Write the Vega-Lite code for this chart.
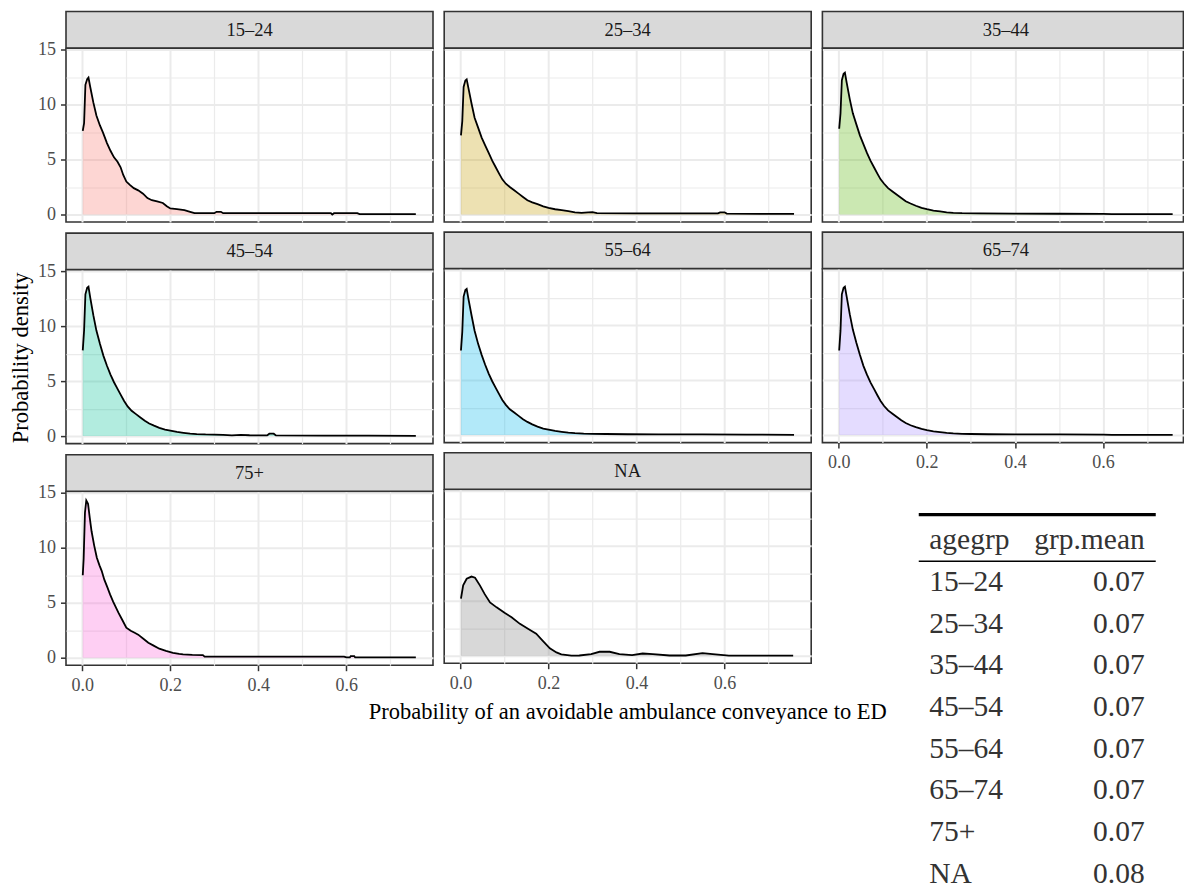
{
  "$schema": "https://vega.github.io/schema/vega-lite/v6.json",
  "background": "white",
  "padding": {"left": 10, "top": 10.5, "right": 0, "bottom": 0},
  "title": {"text": "Probability of an avoidable ambulance conveyance to ED", "orient": "bottom", "anchor": "middle", "frame": "bounds", "offset": 0, "dx": 30.6, "dy": -194, "font": "Liberation Serif", "fontSize": 22.5, "fontWeight": "normal", "color": "#000000"},
  "datasets": {
    "density": [
      {"g":"15–24","x":0.001,"d":7.6},{"g":"15–24","x":0.004,"d":8.3},{"g":"15–24","x":0.007,"d":11.8},{"g":"15–24","x":0.011,"d":12.3},{"g":"15–24","x":0.014,"d":12.45},{"g":"15–24","x":0.018,"d":11.6},{"g":"15–24","x":0.025,"d":10.2},{"g":"15–24","x":0.032,"d":9.0},{"g":"15–24","x":0.04,"d":8.1},{"g":"15–24","x":0.047,"d":7.45},{"g":"15–24","x":0.056,"d":6.5},{"g":"15–24","x":0.064,"d":5.8},{"g":"15–24","x":0.072,"d":5.2},{"g":"15–24","x":0.08,"d":4.8},{"g":"15–24","x":0.087,"d":4.3},{"g":"15–24","x":0.093,"d":3.6},{"g":"15–24","x":0.1,"d":3.0},{"g":"15–24","x":0.108,"d":2.7},{"g":"15–24","x":0.117,"d":2.4},{"g":"15–24","x":0.127,"d":2.2},{"g":"15–24","x":0.138,"d":1.9},{"g":"15–24","x":0.148,"d":1.5},{"g":"15–24","x":0.158,"d":1.3},{"g":"15–24","x":0.17,"d":1.2},{"g":"15–24","x":0.183,"d":1.05},{"g":"15–24","x":0.192,"d":0.75},{"g":"15–24","x":0.2,"d":0.55},{"g":"15–24","x":0.215,"d":0.5},{"g":"15–24","x":0.232,"d":0.4},{"g":"15–24","x":0.245,"d":0.25},{"g":"15–24","x":0.255,"d":0.12},{"g":"15–24","x":0.3,"d":0.12},{"g":"15–24","x":0.305,"d":0.25},{"g":"15–24","x":0.315,"d":0.25},{"g":"15–24","x":0.32,"d":0.12},{"g":"15–24","x":0.45,"d":0.12},{"g":"15–24","x":0.565,"d":0.12},{"g":"15–24","x":0.568,"d":0.0},{"g":"15–24","x":0.572,"d":0.12},{"g":"15–24","x":0.625,"d":0.12},{"g":"15–24","x":0.63,"d":0.03},{"g":"15–24","x":0.758,"d":0.03},

      {"g":"25–34","x":0.001,"d":7.2},{"g":"25–34","x":0.004,"d":8.5},{"g":"25–34","x":0.007,"d":11.6},{"g":"25–34","x":0.011,"d":12.2},{"g":"25–34","x":0.014,"d":12.3},{"g":"25–34","x":0.018,"d":11.5},{"g":"25–34","x":0.025,"d":10.1},{"g":"25–34","x":0.032,"d":8.8},{"g":"25–34","x":0.04,"d":7.9},{"g":"25–34","x":0.048,"d":7.0},{"g":"25–34","x":0.056,"d":6.3},{"g":"25–34","x":0.064,"d":5.6},{"g":"25–34","x":0.072,"d":4.9},{"g":"25–34","x":0.08,"d":4.3},{"g":"25–34","x":0.088,"d":3.7},{"g":"25–34","x":0.095,"d":3.2},{"g":"25–34","x":0.103,"d":2.8},{"g":"25–34","x":0.112,"d":2.5},{"g":"25–34","x":0.122,"d":2.2},{"g":"25–34","x":0.132,"d":1.9},{"g":"25–34","x":0.142,"d":1.6},{"g":"25–34","x":0.152,"d":1.3},{"g":"25–34","x":0.163,"d":1.1},{"g":"25–34","x":0.175,"d":0.95},{"g":"25–34","x":0.188,"d":0.75},{"g":"25–34","x":0.2,"d":0.6},{"g":"25–34","x":0.215,"d":0.48},{"g":"25–34","x":0.23,"d":0.4},{"g":"25–34","x":0.245,"d":0.3},{"g":"25–34","x":0.26,"d":0.2},{"g":"25–34","x":0.275,"d":0.15},{"g":"25–34","x":0.29,"d":0.2},{"g":"25–34","x":0.3,"d":0.22},{"g":"25–34","x":0.31,"d":0.12},{"g":"25–34","x":0.4,"d":0.1},{"g":"25–34","x":0.5,"d":0.1},{"g":"25–34","x":0.585,"d":0.1},{"g":"25–34","x":0.59,"d":0.2},{"g":"25–34","x":0.6,"d":0.2},{"g":"25–34","x":0.605,"d":0.08},{"g":"25–34","x":0.68,"d":0.05},{"g":"25–34","x":0.758,"d":0.05},

      {"g":"35–44","x":0.001,"d":7.8},{"g":"35–44","x":0.004,"d":9.2},{"g":"35–44","x":0.007,"d":12.2},{"g":"35–44","x":0.011,"d":12.8},{"g":"35–44","x":0.014,"d":12.9},{"g":"35–44","x":0.018,"d":12.0},{"g":"35–44","x":0.025,"d":10.5},{"g":"35–44","x":0.032,"d":9.2},{"g":"35–44","x":0.04,"d":8.2},{"g":"35–44","x":0.048,"d":7.2},{"g":"35–44","x":0.056,"d":6.4},{"g":"35–44","x":0.064,"d":5.6},{"g":"35–44","x":0.072,"d":4.9},{"g":"35–44","x":0.08,"d":4.3},{"g":"35–44","x":0.088,"d":3.7},{"g":"35–44","x":0.095,"d":3.2},{"g":"35–44","x":0.103,"d":2.8},{"g":"35–44","x":0.112,"d":2.4},{"g":"35–44","x":0.122,"d":2.1},{"g":"35–44","x":0.132,"d":1.8},{"g":"35–44","x":0.142,"d":1.5},{"g":"35–44","x":0.152,"d":1.2},{"g":"35–44","x":0.163,"d":1.0},{"g":"35–44","x":0.175,"d":0.8},{"g":"35–44","x":0.188,"d":0.6},{"g":"35–44","x":0.2,"d":0.48},{"g":"35–44","x":0.215,"d":0.35},{"g":"35–44","x":0.23,"d":0.28},{"g":"35–44","x":0.245,"d":0.2},{"g":"35–44","x":0.26,"d":0.15},{"g":"35–44","x":0.28,"d":0.12},{"g":"35–44","x":0.32,"d":0.1},{"g":"35–44","x":0.4,"d":0.08},{"g":"35–44","x":0.5,"d":0.07},{"g":"35–44","x":0.6,"d":0.06},{"g":"35–44","x":0.62,"d":0.03},{"g":"35–44","x":0.758,"d":0.03},

      {"g":"45–54","x":0.001,"d":7.8},{"g":"45–54","x":0.004,"d":9.6},{"g":"45–54","x":0.007,"d":12.9},{"g":"45–54","x":0.011,"d":13.5},{"g":"45–54","x":0.014,"d":13.6},{"g":"45–54","x":0.018,"d":12.6},{"g":"45–54","x":0.025,"d":11.0},{"g":"45–54","x":0.032,"d":9.6},{"g":"45–54","x":0.04,"d":8.4},{"g":"45–54","x":0.048,"d":7.3},{"g":"45–54","x":0.056,"d":6.4},{"g":"45–54","x":0.064,"d":5.6},{"g":"45–54","x":0.072,"d":4.9},{"g":"45–54","x":0.08,"d":4.3},{"g":"45–54","x":0.088,"d":3.7},{"g":"45–54","x":0.095,"d":3.2},{"g":"45–54","x":0.103,"d":2.7},{"g":"45–54","x":0.112,"d":2.3},{"g":"45–54","x":0.122,"d":2.0},{"g":"45–54","x":0.132,"d":1.7},{"g":"45–54","x":0.142,"d":1.4},{"g":"45–54","x":0.152,"d":1.15},{"g":"45–54","x":0.163,"d":0.95},{"g":"45–54","x":0.175,"d":0.75},{"g":"45–54","x":0.188,"d":0.6},{"g":"45–54","x":0.2,"d":0.5},{"g":"45–54","x":0.215,"d":0.38},{"g":"45–54","x":0.23,"d":0.3},{"g":"45–54","x":0.245,"d":0.22},{"g":"45–54","x":0.26,"d":0.18},{"g":"45–54","x":0.28,"d":0.15},{"g":"45–54","x":0.3,"d":0.14},{"g":"45–54","x":0.32,"d":0.12},{"g":"45–54","x":0.34,"d":0.06},{"g":"45–54","x":0.36,"d":0.12},{"g":"45–54","x":0.38,"d":0.08},{"g":"45–54","x":0.42,"d":0.06},{"g":"45–54","x":0.425,"d":0.22},{"g":"45–54","x":0.435,"d":0.22},{"g":"45–54","x":0.44,"d":0.06},{"g":"45–54","x":0.55,"d":0.05},{"g":"45–54","x":0.65,"d":0.04},{"g":"45–54","x":0.758,"d":0.03},

      {"g":"55–64","x":0.001,"d":7.7},{"g":"55–64","x":0.004,"d":9.4},{"g":"55–64","x":0.007,"d":12.6},{"g":"55–64","x":0.011,"d":13.2},{"g":"55–64","x":0.014,"d":13.3},{"g":"55–64","x":0.018,"d":12.4},{"g":"55–64","x":0.025,"d":10.9},{"g":"55–64","x":0.032,"d":9.5},{"g":"55–64","x":0.04,"d":8.3},{"g":"55–64","x":0.048,"d":7.3},{"g":"55–64","x":0.056,"d":6.4},{"g":"55–64","x":0.064,"d":5.6},{"g":"55–64","x":0.072,"d":4.9},{"g":"55–64","x":0.08,"d":4.3},{"g":"55–64","x":0.088,"d":3.7},{"g":"55–64","x":0.095,"d":3.2},{"g":"55–64","x":0.103,"d":2.75},{"g":"55–64","x":0.112,"d":2.35},{"g":"55–64","x":0.122,"d":2.05},{"g":"55–64","x":0.132,"d":1.75},{"g":"55–64","x":0.142,"d":1.45},{"g":"55–64","x":0.152,"d":1.2},{"g":"55–64","x":0.163,"d":0.98},{"g":"55–64","x":0.175,"d":0.78},{"g":"55–64","x":0.188,"d":0.6},{"g":"55–64","x":0.2,"d":0.5},{"g":"55–64","x":0.215,"d":0.38},{"g":"55–64","x":0.23,"d":0.3},{"g":"55–64","x":0.245,"d":0.23},{"g":"55–64","x":0.26,"d":0.18},{"g":"55–64","x":0.28,"d":0.14},{"g":"55–64","x":0.3,"d":0.12},{"g":"55–64","x":0.33,"d":0.1},{"g":"55–64","x":0.38,"d":0.08},{"g":"55–64","x":0.45,"d":0.07},{"g":"55–64","x":0.55,"d":0.06},{"g":"55–64","x":0.65,"d":0.04},{"g":"55–64","x":0.758,"d":0.03},

      {"g":"65–74","x":0.001,"d":7.7},{"g":"65–74","x":0.004,"d":9.5},{"g":"65–74","x":0.007,"d":12.8},{"g":"65–74","x":0.011,"d":13.4},{"g":"65–74","x":0.014,"d":13.5},{"g":"65–74","x":0.018,"d":12.6},{"g":"65–74","x":0.025,"d":11.0},{"g":"65–74","x":0.032,"d":9.6},{"g":"65–74","x":0.04,"d":8.4},{"g":"65–74","x":0.048,"d":7.3},{"g":"65–74","x":0.056,"d":6.3},{"g":"65–74","x":0.064,"d":5.5},{"g":"65–74","x":0.072,"d":4.8},{"g":"65–74","x":0.08,"d":4.2},{"g":"65–74","x":0.088,"d":3.6},{"g":"65–74","x":0.095,"d":3.1},{"g":"65–74","x":0.103,"d":2.65},{"g":"65–74","x":0.112,"d":2.25},{"g":"65–74","x":0.122,"d":1.95},{"g":"65–74","x":0.132,"d":1.65},{"g":"65–74","x":0.142,"d":1.35},{"g":"65–74","x":0.152,"d":1.1},{"g":"65–74","x":0.163,"d":0.9},{"g":"65–74","x":0.175,"d":0.72},{"g":"65–74","x":0.188,"d":0.56},{"g":"65–74","x":0.2,"d":0.45},{"g":"65–74","x":0.215,"d":0.35},{"g":"65–74","x":0.23,"d":0.27},{"g":"65–74","x":0.245,"d":0.2},{"g":"65–74","x":0.26,"d":0.15},{"g":"65–74","x":0.28,"d":0.12},{"g":"65–74","x":0.3,"d":0.1},{"g":"65–74","x":0.34,"d":0.08},{"g":"65–74","x":0.4,"d":0.07},{"g":"65–74","x":0.5,"d":0.06},{"g":"65–74","x":0.6,"d":0.05},{"g":"65–74","x":0.62,"d":0.03},{"g":"65–74","x":0.758,"d":0.03},

      {"g":"75+","x":0.001,"d":7.5},{"g":"75+","x":0.003,"d":9.0},{"g":"75+","x":0.006,"d":13.2},{"g":"75+","x":0.009,"d":14.3},{"g":"75+","x":0.013,"d":14.0},{"g":"75+","x":0.017,"d":12.7},{"g":"75+","x":0.021,"d":11.5},{"g":"75+","x":0.027,"d":10.2},{"g":"75+","x":0.033,"d":9.1},{"g":"75+","x":0.039,"d":8.4},{"g":"75+","x":0.044,"d":7.9},{"g":"75+","x":0.05,"d":7.1},{"g":"75+","x":0.057,"d":6.4},{"g":"75+","x":0.063,"d":5.76},{"g":"75+","x":0.07,"d":5.1},{"g":"75+","x":0.076,"d":4.6},{"g":"75+","x":0.082,"d":4.1},{"g":"75+","x":0.09,"d":3.5},{"g":"75+","x":0.1,"d":2.73},{"g":"75+","x":0.11,"d":2.45},{"g":"75+","x":0.12,"d":2.25},{"g":"75+","x":0.127,"d":2.1},{"g":"75+","x":0.138,"d":1.75},{"g":"75+","x":0.15,"d":1.36},{"g":"75+","x":0.162,"d":1.1},{"g":"75+","x":0.175,"d":0.82},{"g":"75+","x":0.19,"d":0.62},{"g":"75+","x":0.206,"d":0.45},{"g":"75+","x":0.22,"d":0.35},{"g":"75+","x":0.229,"d":0.3},{"g":"75+","x":0.25,"d":0.26},{"g":"75+","x":0.274,"d":0.24},{"g":"75+","x":0.278,"d":0.1},{"g":"75+","x":0.45,"d":0.1},{"g":"75+","x":0.595,"d":0.1},{"g":"75+","x":0.6,"d":0.03},{"g":"75+","x":0.608,"d":0.03},{"g":"75+","x":0.61,"d":0.15},{"g":"75+","x":0.618,"d":0.15},{"g":"75+","x":0.62,"d":0.03},{"g":"75+","x":0.758,"d":0.03},

      {"g":"NA","x":0.001,"d":5.2},{"g":"NA","x":0.006,"d":6.4},{"g":"NA","x":0.014,"d":7.0},{"g":"NA","x":0.025,"d":7.2},{"g":"NA","x":0.033,"d":7.1},{"g":"NA","x":0.044,"d":6.4},{"g":"NA","x":0.055,"d":5.6},{"g":"NA","x":0.067,"d":4.85},{"g":"NA","x":0.082,"d":4.4},{"g":"NA","x":0.1,"d":3.9},{"g":"NA","x":0.116,"d":3.5},{"g":"NA","x":0.135,"d":2.9},{"g":"NA","x":0.157,"d":2.36},{"g":"NA","x":0.172,"d":2.0},{"g":"NA","x":0.187,"d":1.36},{"g":"NA","x":0.203,"d":0.67},{"g":"NA","x":0.218,"d":0.3},{"g":"NA","x":0.229,"d":0.12},{"g":"NA","x":0.252,"d":0.01},{"g":"NA","x":0.27,"d":0.02},{"g":"NA","x":0.297,"d":0.15},{"g":"NA","x":0.316,"d":0.36},{"g":"NA","x":0.339,"d":0.36},{"g":"NA","x":0.361,"d":0.15},{"g":"NA","x":0.39,"d":0.06},{"g":"NA","x":0.414,"d":0.2},{"g":"NA","x":0.437,"d":0.15},{"g":"NA","x":0.475,"d":0.02},{"g":"NA","x":0.512,"d":0.02},{"g":"NA","x":0.55,"d":0.24},{"g":"NA","x":0.573,"d":0.15},{"g":"NA","x":0.61,"d":0.01},{"g":"NA","x":0.709,"d":0.01},{"g":"NA","x":0.756,"d":0.01}
    ],
    "means": [
      {"agegrp":"15–24","grp_mean":0.07},
      {"agegrp":"25–34","grp_mean":0.07},
      {"agegrp":"35–44","grp_mean":0.07},
      {"agegrp":"45–54","grp_mean":0.07},
      {"agegrp":"55–64","grp_mean":0.07},
      {"agegrp":"65–74","grp_mean":0.07},
      {"agegrp":"75+","grp_mean":0.07},
      {"agegrp":"NA","grp_mean":0.08}
    ]
  },
  "spacing": 9.2,
  "hconcat": [
    {
      "title": {"text": "Probability density", "orient": "left", "anchor": "middle", "offset": 4, "dx": -5, "font": "Liberation Serif", "fontSize": 22.5, "fontWeight": "normal", "color": "#000000"},
      "spacing": 7.6,
      "vconcat": [
        {"spacing": 0, "bounds": "flush", "vconcat": [
          {"width": 367, "height": 36.5, "data": {"values": [{"g": "15–24"}]}, "mark": {"type": "text", "font": "Liberation Serif", "fontSize": 18.5, "color": "#1A1A1A", "baseline": "middle"}, "encoding": {"text": {"field": "g"}}, "view": {"fill": "#D9D9D9", "stroke": "#333333", "strokeWidth": 1.6}},
          {"width": 367, "height": 173.5, "data": {"name": "density"}, "transform": [{"filter": "datum.g === '15–24'"}],
           "encoding": {
             "x": {"field": "x", "type": "quantitative", "scale": {"domain": [-0.0371, 0.797], "nice": false, "zero": false}, "axis": {"values": [0,0.1,0.2,0.3,0.4,0.5,0.6,0.7], "labels": false, "ticks": false, "title": null, "gridWidth": {"condition": {"test": "round(datum.value*10) % 2 === 0", "value": 2}, "value": 1.2}}},
             "y": {"field": "d", "type": "quantitative", "scale": {"domain": [-0.68, 15.1], "nice": false, "zero": false}, "axis": {"values": [0,2.5,5,7.5,10,12.5,15], "title": null, "labelExpr": "datum.value % 5 === 0 ? format(datum.value, 'd') : ''", "labelPadding": 5, "labelOverlap": false, "labelFlush": false, "tickOpacity": {"condition": {"test": "datum.value % 5 === 0", "value": 1}, "value": 0}, "gridWidth": {"condition": {"test": "datum.value % 5 === 0", "value": 2}, "value": 1.2}}}
           },
           "layer": [
             {"mark": {"type": "area", "opacity": 0.3}, "encoding": {"color": {"field": "g", "type": "nominal", "legend": null, "scale": {"domain": ["15–24","25–34","35–44","45–54","55–64","65–74","75+","NA"], "range": ["#F8766D","#C49A00","#53B400","#00C094","#00B6EB","#A58AFF","#FB61D7","#7F7F7F"]}}}},
             {"mark": {"type": "line", "color": "#000000", "strokeWidth": 1.8}}
           ]}
        ]},
        {"spacing": 0, "bounds": "flush", "vconcat": [
          {"width": 367, "height": 36.5, "data": {"values": [{"g": "45–54"}]}, "mark": {"type": "text", "font": "Liberation Serif", "fontSize": 18.5, "color": "#1A1A1A", "baseline": "middle"}, "encoding": {"text": {"field": "g"}}, "view": {"fill": "#D9D9D9", "stroke": "#333333", "strokeWidth": 1.6}},
          {"width": 367, "height": 173.5, "data": {"name": "density"}, "transform": [{"filter": "datum.g === '45–54'"}],
           "encoding": {
             "x": {"field": "x", "type": "quantitative", "scale": {"domain": [-0.0371, 0.797], "nice": false, "zero": false}, "axis": {"values": [0,0.1,0.2,0.3,0.4,0.5,0.6,0.7], "labels": false, "ticks": false, "title": null, "gridWidth": {"condition": {"test": "round(datum.value*10) % 2 === 0", "value": 2}, "value": 1.2}}},
             "y": {"field": "d", "type": "quantitative", "scale": {"domain": [-0.68, 15.1], "nice": false, "zero": false}, "axis": {"values": [0,2.5,5,7.5,10,12.5,15], "title": null, "labelExpr": "datum.value % 5 === 0 ? format(datum.value, 'd') : ''", "labelPadding": 5, "labelOverlap": false, "labelFlush": false, "tickOpacity": {"condition": {"test": "datum.value % 5 === 0", "value": 1}, "value": 0}, "gridWidth": {"condition": {"test": "datum.value % 5 === 0", "value": 2}, "value": 1.2}}}
           },
           "layer": [
             {"mark": {"type": "area", "opacity": 0.3}, "encoding": {"color": {"field": "g", "type": "nominal", "legend": null, "scale": {"domain": ["15–24","25–34","35–44","45–54","55–64","65–74","75+","NA"], "range": ["#F8766D","#C49A00","#53B400","#00C094","#00B6EB","#A58AFF","#FB61D7","#7F7F7F"]}}}},
             {"mark": {"type": "line", "color": "#000000", "strokeWidth": 1.8}}
           ]}
        ]},
        {"spacing": 0, "bounds": "flush", "vconcat": [
          {"width": 367, "height": 36.5, "data": {"values": [{"g": "75+"}]}, "mark": {"type": "text", "font": "Liberation Serif", "fontSize": 18.5, "color": "#1A1A1A", "baseline": "middle"}, "encoding": {"text": {"field": "g"}}, "view": {"fill": "#D9D9D9", "stroke": "#333333", "strokeWidth": 1.6}},
          {"width": 367, "height": 173.5, "data": {"name": "density"}, "transform": [{"filter": "datum.g === '75+'"}],
           "encoding": {
             "x": {"field": "x", "type": "quantitative", "scale": {"domain": [-0.0371, 0.797], "nice": false, "zero": false}, "axis": {"values": [0,0.1,0.2,0.3,0.4,0.5,0.6,0.7], "title": null, "labelExpr": "round(datum.value*10) % 2 === 0 ? format(datum.value, '.1f') : ''", "labelFlush": false, "labelOverlap": false, "labelPadding": 5.5, "tickOpacity": {"condition": {"test": "round(datum.value*10) % 2 === 0", "value": 1}, "value": 0}, "gridWidth": {"condition": {"test": "round(datum.value*10) % 2 === 0", "value": 2}, "value": 1.2}}},
             "y": {"field": "d", "type": "quantitative", "scale": {"domain": [-0.68, 15.1], "nice": false, "zero": false}, "axis": {"values": [0,2.5,5,7.5,10,12.5,15], "title": null, "labelExpr": "datum.value % 5 === 0 ? format(datum.value, 'd') : ''", "labelPadding": 5, "labelOverlap": false, "labelFlush": false, "tickOpacity": {"condition": {"test": "datum.value % 5 === 0", "value": 1}, "value": 0}, "gridWidth": {"condition": {"test": "datum.value % 5 === 0", "value": 2}, "value": 1.2}}}
           },
           "layer": [
             {"mark": {"type": "area", "opacity": 0.3}, "encoding": {"color": {"field": "g", "type": "nominal", "legend": null, "scale": {"domain": ["15–24","25–34","35–44","45–54","55–64","65–74","75+","NA"], "range": ["#F8766D","#C49A00","#53B400","#00C094","#00B6EB","#A58AFF","#FB61D7","#7F7F7F"]}}}},
             {"mark": {"type": "line", "color": "#000000", "strokeWidth": 1.8}}
           ]}
        ]}
      ]
    },
    {
      "spacing": 7.6,
      "vconcat": [
        {"spacing": 0, "bounds": "flush", "vconcat": [
          {"width": 367, "height": 36.5, "data": {"values": [{"g": "25–34"}]}, "mark": {"type": "text", "font": "Liberation Serif", "fontSize": 18.5, "color": "#1A1A1A", "baseline": "middle"}, "encoding": {"text": {"field": "g"}}, "view": {"fill": "#D9D9D9", "stroke": "#333333", "strokeWidth": 1.6}},
          {"width": 367, "height": 173.5, "data": {"name": "density"}, "transform": [{"filter": "datum.g === '25–34'"}],
           "encoding": {
             "x": {"field": "x", "type": "quantitative", "scale": {"domain": [-0.0371, 0.797], "nice": false, "zero": false}, "axis": {"values": [0,0.1,0.2,0.3,0.4,0.5,0.6,0.7], "labels": false, "ticks": false, "title": null, "gridWidth": {"condition": {"test": "round(datum.value*10) % 2 === 0", "value": 2}, "value": 1.2}}},
             "y": {"field": "d", "type": "quantitative", "scale": {"domain": [-0.68, 15.1], "nice": false, "zero": false}, "axis": {"values": [0,2.5,5,7.5,10,12.5,15], "labels": false, "ticks": false, "title": null, "gridWidth": {"condition": {"test": "datum.value % 5 === 0", "value": 2}, "value": 1.2}}}
           },
           "layer": [
             {"mark": {"type": "area", "opacity": 0.3}, "encoding": {"color": {"field": "g", "type": "nominal", "legend": null, "scale": {"domain": ["15–24","25–34","35–44","45–54","55–64","65–74","75+","NA"], "range": ["#F8766D","#C49A00","#53B400","#00C094","#00B6EB","#A58AFF","#FB61D7","#7F7F7F"]}}}},
             {"mark": {"type": "line", "color": "#000000", "strokeWidth": 1.8}}
           ]}
        ]},
        {"spacing": 0, "bounds": "flush", "vconcat": [
          {"width": 367, "height": 36.5, "data": {"values": [{"g": "55–64"}]}, "mark": {"type": "text", "font": "Liberation Serif", "fontSize": 18.5, "color": "#1A1A1A", "baseline": "middle"}, "encoding": {"text": {"field": "g"}}, "view": {"fill": "#D9D9D9", "stroke": "#333333", "strokeWidth": 1.6}},
          {"width": 367, "height": 173.5, "data": {"name": "density"}, "transform": [{"filter": "datum.g === '55–64'"}],
           "encoding": {
             "x": {"field": "x", "type": "quantitative", "scale": {"domain": [-0.0371, 0.797], "nice": false, "zero": false}, "axis": {"values": [0,0.1,0.2,0.3,0.4,0.5,0.6,0.7], "labels": false, "ticks": false, "title": null, "gridWidth": {"condition": {"test": "round(datum.value*10) % 2 === 0", "value": 2}, "value": 1.2}}},
             "y": {"field": "d", "type": "quantitative", "scale": {"domain": [-0.68, 15.1], "nice": false, "zero": false}, "axis": {"values": [0,2.5,5,7.5,10,12.5,15], "labels": false, "ticks": false, "title": null, "gridWidth": {"condition": {"test": "datum.value % 5 === 0", "value": 2}, "value": 1.2}}}
           },
           "layer": [
             {"mark": {"type": "area", "opacity": 0.3}, "encoding": {"color": {"field": "g", "type": "nominal", "legend": null, "scale": {"domain": ["15–24","25–34","35–44","45–54","55–64","65–74","75+","NA"], "range": ["#F8766D","#C49A00","#53B400","#00C094","#00B6EB","#A58AFF","#FB61D7","#7F7F7F"]}}}},
             {"mark": {"type": "line", "color": "#000000", "strokeWidth": 1.8}}
           ]}
        ]},
        {"spacing": 0, "bounds": "flush", "vconcat": [
          {"width": 367, "height": 36.5, "data": {"values": [{"g": "NA"}]}, "mark": {"type": "text", "font": "Liberation Serif", "fontSize": 18.5, "color": "#1A1A1A", "baseline": "middle"}, "encoding": {"text": {"field": "g"}}, "view": {"fill": "#D9D9D9", "stroke": "#333333", "strokeWidth": 1.6}},
          {"width": 367, "height": 173.5, "data": {"name": "density"}, "transform": [{"filter": "datum.g === 'NA'"}],
           "encoding": {
             "x": {"field": "x", "type": "quantitative", "scale": {"domain": [-0.0371, 0.797], "nice": false, "zero": false}, "axis": {"values": [0,0.1,0.2,0.3,0.4,0.5,0.6,0.7], "title": null, "labelExpr": "round(datum.value*10) % 2 === 0 ? format(datum.value, '.1f') : ''", "labelFlush": false, "labelOverlap": false, "labelPadding": 5.5, "tickOpacity": {"condition": {"test": "round(datum.value*10) % 2 === 0", "value": 1}, "value": 0}, "gridWidth": {"condition": {"test": "round(datum.value*10) % 2 === 0", "value": 2}, "value": 1.2}}},
             "y": {"field": "d", "type": "quantitative", "scale": {"domain": [-0.68, 15.1], "nice": false, "zero": false}, "axis": {"values": [0,2.5,5,7.5,10,12.5,15], "labels": false, "ticks": false, "title": null, "gridWidth": {"condition": {"test": "datum.value % 5 === 0", "value": 2}, "value": 1.2}}}
           },
           "layer": [
             {"mark": {"type": "area", "opacity": 0.3}, "encoding": {"color": {"field": "g", "type": "nominal", "legend": null, "scale": {"domain": ["15–24","25–34","35–44","45–54","55–64","65–74","75+","NA"], "range": ["#F8766D","#C49A00","#53B400","#00C094","#00B6EB","#A58AFF","#FB61D7","#7F7F7F"]}}}},
             {"mark": {"type": "line", "color": "#000000", "strokeWidth": 1.8}}
           ]}
        ]}
      ]
    },
    {
      "spacing": 7.6,
      "vconcat": [
        {"spacing": 0, "bounds": "flush", "vconcat": [
          {"width": 361, "height": 36.5, "data": {"values": [{"g": "35–44"}]}, "mark": {"type": "text", "font": "Liberation Serif", "fontSize": 18.5, "color": "#1A1A1A", "baseline": "middle", "dx": 3}, "encoding": {"text": {"field": "g"}}, "view": {"fill": "#D9D9D9", "stroke": "#333333", "strokeWidth": 1.6}},
          {"width": 361, "height": 173.5, "data": {"name": "density"}, "transform": [{"filter": "datum.g === '35–44'"}],
           "encoding": {
             "x": {"field": "x", "type": "quantitative", "scale": {"domain": [-0.0371, 0.7824], "nice": false, "zero": false}, "axis": {"values": [0,0.1,0.2,0.3,0.4,0.5,0.6,0.7], "labels": false, "ticks": false, "title": null, "gridWidth": {"condition": {"test": "round(datum.value*10) % 2 === 0", "value": 2}, "value": 1.2}}},
             "y": {"field": "d", "type": "quantitative", "scale": {"domain": [-0.68, 15.1], "nice": false, "zero": false}, "axis": {"values": [0,2.5,5,7.5,10,12.5,15], "labels": false, "ticks": false, "title": null, "gridWidth": {"condition": {"test": "datum.value % 5 === 0", "value": 2}, "value": 1.2}}}
           },
           "layer": [
             {"mark": {"type": "area", "opacity": 0.3}, "encoding": {"color": {"field": "g", "type": "nominal", "legend": null, "scale": {"domain": ["15–24","25–34","35–44","45–54","55–64","65–74","75+","NA"], "range": ["#F8766D","#C49A00","#53B400","#00C094","#00B6EB","#A58AFF","#FB61D7","#7F7F7F"]}}}},
             {"mark": {"type": "line", "color": "#000000", "strokeWidth": 1.8}}
           ]}
        ]},
        {"spacing": 0, "bounds": "flush", "vconcat": [
          {"width": 361, "height": 36.5, "data": {"values": [{"g": "65–74"}]}, "mark": {"type": "text", "font": "Liberation Serif", "fontSize": 18.5, "color": "#1A1A1A", "baseline": "middle", "dx": 3}, "encoding": {"text": {"field": "g"}}, "view": {"fill": "#D9D9D9", "stroke": "#333333", "strokeWidth": 1.6}},
          {"width": 361, "height": 173.5, "data": {"name": "density"}, "transform": [{"filter": "datum.g === '65–74'"}],
           "encoding": {
             "x": {"field": "x", "type": "quantitative", "scale": {"domain": [-0.0371, 0.7824], "nice": false, "zero": false}, "axis": {"values": [0,0.1,0.2,0.3,0.4,0.5,0.6,0.7], "title": null, "labelExpr": "round(datum.value*10) % 2 === 0 ? format(datum.value, '.1f') : ''", "labelFlush": false, "labelOverlap": false, "labelPadding": 5.5, "tickOpacity": {"condition": {"test": "round(datum.value*10) % 2 === 0", "value": 1}, "value": 0}, "gridWidth": {"condition": {"test": "round(datum.value*10) % 2 === 0", "value": 2}, "value": 1.2}}},
             "y": {"field": "d", "type": "quantitative", "scale": {"domain": [-0.68, 15.1], "nice": false, "zero": false}, "axis": {"values": [0,2.5,5,7.5,10,12.5,15], "labels": false, "ticks": false, "title": null, "gridWidth": {"condition": {"test": "datum.value % 5 === 0", "value": 2}, "value": 1.2}}}
           },
           "layer": [
             {"mark": {"type": "area", "opacity": 0.3}, "encoding": {"color": {"field": "g", "type": "nominal", "legend": null, "scale": {"domain": ["15–24","25–34","35–44","45–54","55–64","65–74","75+","NA"], "range": ["#F8766D","#C49A00","#53B400","#00C094","#00B6EB","#A58AFF","#FB61D7","#7F7F7F"]}}}},
             {"mark": {"type": "line", "color": "#000000", "strokeWidth": 1.8}}
           ]}
        ]},
        {
          "width": 361,
          "height": 414,
          "view": {"stroke": null},
          "layer": [
            {"data": {"name": "means"},
             "mark": {"type": "text", "align": "left", "baseline": "middle", "dx": 10.5, "font": "Liberation Serif", "fontSize": 29.5, "color": "#333333"},
             "encoding": {
               "x": {"datum": "agegrp", "type": "nominal", "bandPosition": 0, "axis": null, "scale": {"type": "band", "domain": ["agegrp", "grp.mean"], "paddingInner": 0, "paddingOuter": 0.5232, "align": 0.777}},
               "y": {"field": "agegrp", "type": "nominal", "axis": null, "scale": {"type": "band", "domain": ["hdr","15–24","25–34","35–44","45–54","55–64","65–74","75+","NA"], "paddingInner": 0, "paddingOuter": 0.466, "align": 1}},
               "text": {"field": "agegrp"}
             }},
            {"data": {"name": "means"},
             "mark": {"type": "text", "align": "right", "baseline": "middle", "dx": -11, "font": "Liberation Serif", "fontSize": 29.5, "color": "#333333"},
             "encoding": {
               "x": {"datum": "grp.mean", "type": "nominal", "bandPosition": 1},
               "y": {"field": "agegrp", "type": "nominal"},
               "text": {"field": "grp_mean", "type": "quantitative", "format": ".2f"}
             }},
            {"data": {"values": [{"col": "agegrp"}]},
             "mark": {"type": "text", "align": "left", "baseline": "middle", "dx": 10.5, "font": "Liberation Serif", "fontSize": 29.5, "color": "#333333"},
             "encoding": {
               "x": {"datum": "agegrp", "type": "nominal", "bandPosition": 0},
               "y": {"datum": "hdr", "type": "nominal"},
               "text": {"field": "col"}
             }},
            {"data": {"values": [{"col": "grp.mean"}]},
             "mark": {"type": "text", "align": "right", "baseline": "middle", "dx": -11, "font": "Liberation Serif", "fontSize": 29.5, "color": "#333333"},
             "encoding": {
               "x": {"datum": "grp.mean", "type": "nominal", "bandPosition": 1},
               "y": {"datum": "hdr", "type": "nominal"},
               "text": {"field": "col"}
             }},
            {"data": {"values": [{"edge": "top"}]},
             "mark": {"type": "rule", "color": "#000000", "strokeWidth": 3.2, "yOffset": -5},
             "encoding": {
               "x": {"datum": "agegrp", "type": "nominal", "bandPosition": 0},
               "x2": {"datum": "grp.mean", "bandPosition": 1},
               "y": {"datum": "hdr", "type": "nominal", "bandPosition": 0}
             }},
            {"data": {"values": [{"edge": "header"}]},
             "mark": {"type": "rule", "color": "#000000", "strokeWidth": 1.5},
             "encoding": {
               "x": {"datum": "agegrp", "type": "nominal", "bandPosition": 0},
               "x2": {"datum": "grp.mean", "bandPosition": 1},
               "y": {"datum": "hdr", "type": "nominal", "bandPosition": 1}
             }}
          ]
        }
      ]
    }
  ],
  "config": {
    "font": "Liberation Serif",
    "view": {"stroke": "#333333", "strokeWidth": 1.6},
    "axis": {
      "domain": false,
      "grid": true,
      "gridColor": "#EBEBEB",
      "labelFont": "Liberation Serif",
      "labelFontSize": 18,
      "labelColor": "#4D4D4D",
      "tickColor": "#333333",
      "tickWidth": 1.5,
      "tickSize": 5.5,
      "titleFont": "Liberation Serif",
      "titleFontSize": 22.5,
      "titleFontWeight": "normal",
      "titleColor": "#000000"
    }
  }
}
